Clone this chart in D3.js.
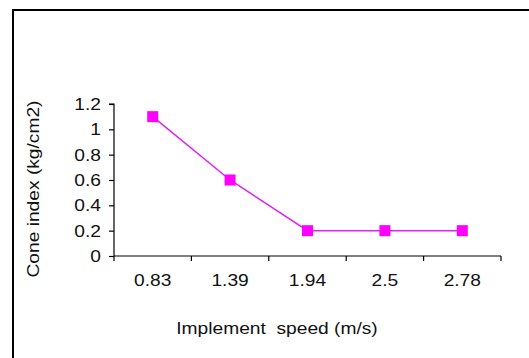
<!DOCTYPE html>
<html>
<head>
<meta charset="utf-8">
<script src="https://cdn.jsdelivr.net/npm/d3@7"></script>
<style>
  body { margin: 0; background: #fff; }
  svg text { font-family: "Liberation Sans", Arial, sans-serif; fill: #111; font-size: 16px; }
</style>
</head>
<body>
<svg id="chart" width="529" height="358"></svg>
<script>
// data
const speeds = ["0.83", "1.39", "1.94", "2.5", "2.78"];
const coneIndex = [1.1, 0.6, 0.2, 0.2, 0.2];
const yTicks = [0, 0.2, 0.4, 0.6, 0.8, 1, 1.2];

const svg = d3.select("#chart");
const stretch = 1.2; // text in the picture is a bit wide

// outer frame (runs off the right/bottom edge)
svg.append("rect")
    .attr("x", 13).attr("y", 10)
    .attr("width", 540).attr("height", 370)
    .attr("fill", "none")
    .attr("stroke", "#000")
    .attr("stroke-width", 2);

let margin = { left: 114, right: 28, top: 104, bottom: 102 };
let width = 529 - margin.left - margin.right,
    height = 358 - margin.top - margin.bottom;

let g = svg.append("g").attr("transform", `translate(${margin.left},${margin.top})`);

let x = d3.scaleBand().domain(speeds).range([0, width]);
let y = d3.scaleLinear().domain([0, 1.2]).range([height, 0]);

function label(parent, tx, ty, txt, anchor, extra) {
    parent.append("g")
        .attr("transform", `translate(${tx},${ty}) ${extra || ""} scale(${stretch},1)`)
        .append("text")
        .attr("text-anchor", anchor)
        .style("white-space", "pre")
        .text(txt);
}

// x axis: ticks on category boundaries
let gx = g.append("g").attr("transform", `translate(0,${height})`);
gx.append("line").attr("x1", 0).attr("x2", width)
    .attr("stroke", "#000").attr("stroke-width", 1.2);
let bounds = speeds.map(s => x(s)).concat([width]);
gx.selectAll(".tk").data(bounds).join("line")
    .attr("x1", d => d).attr("x2", d => d)
    .attr("y1", 0).attr("y2", 5)
    .attr("stroke", "#000").attr("stroke-width", 1.2);
speeds.forEach(s => label(gx, x(s) + x.bandwidth() / 2, 30, s, "middle"));

// y axis
let yAxis = d3.axisLeft(y).tickValues(yTicks).tickSize(5).tickFormat("");
let gy = g.append("g").call(yAxis);
gy.select(".domain").attr("stroke", "#000").attr("stroke-width", 1.2)
    .attr("d", `M-5,0H0V${height}`);
gy.selectAll(".tick line").attr("stroke", "#000").attr("stroke-width", 1.2);
gy.selectAll(".tick text").remove();
yTicks.forEach(v => label(gy, -13, y(v) + 6, String(+v.toFixed(1)), "end"));

// series
let line = d3.line()
    .x((d, i) => x(speeds[i]) + x.bandwidth() / 2)
    .y(d => y(d));
g.append("path").datum(coneIndex)
    .attr("d", line)
    .attr("fill", "none")
    .attr("stroke", "#e020f5")
    .attr("stroke-width", 1.5);

const ms = 11;
g.selectAll(".pt").data(coneIndex).join("rect")
    .attr("x", (d, i) => x(speeds[i]) + x.bandwidth() / 2 - ms / 2)
    .attr("y", d => y(d) - ms / 2)
    .attr("width", ms).attr("height", ms)
    .attr("fill", "#ff00ff");

// axis titles
label(svg, 277, 334, "Implement  speed (m/s)", "middle");
label(svg, 39, 189, "Cone index (kg/cm2)", "middle", "rotate(-90)");
</script>
</body>
</html>
